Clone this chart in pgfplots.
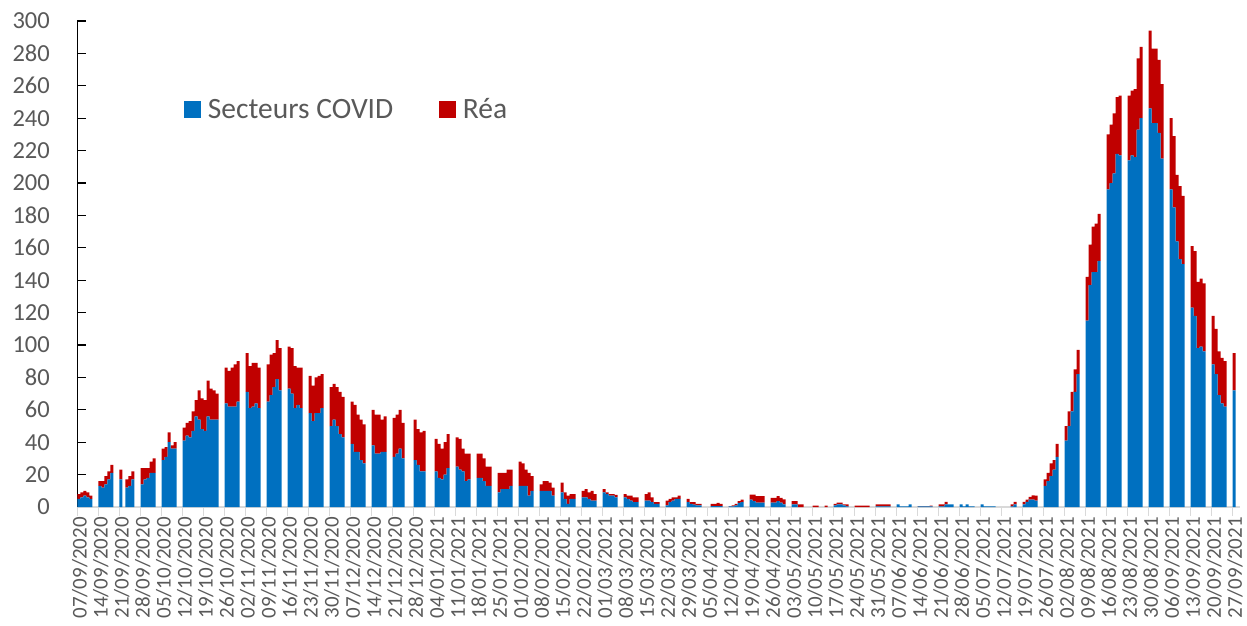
\documentclass[border=0pt]{standalone}
\usepackage{fontspec}
\setmainfont{Carlito}
\usepackage{pgfplots}
\usepackage{pgfplotstable}
\pgfplotsset{compat=1.18}
\definecolor{covblue}{HTML}{0070C0}
\definecolor{reared}{HTML}{C00000}
\definecolor{lblgray}{HTML}{595959}
\definecolor{axgray}{HTML}{D9D9D9}
\pgfplotsset{sqlegend/.style={legend image code/.code={\fill[##1] (0pt,-8.5pt) rectangle (16.5pt,8pt);}}}

\pgfplotstableread{
d cov rea
0 5 3
1 6 3
2 7 3
3 6 3
4 5 2
7 13 3
8 12 4
9 14 5
10 17 5
11 21 5
14 17 6
16 12 5
17 13 6
18 17 5
21 14 10
22 17 7
23 18 6
24 21 7
25 21 9
28 29 7
29 31 6
30 40 6
31 36 2
32 36 4
35 41 8
36 44 8
37 43 10
38 47 12
39 56 10
40 54 18
41 48 19
42 47 19
43 56 22
44 54 19
45 54 18
46 54 16
49 64 22
50 62 22
51 62 24
52 62 26
53 65 25
56 71 24
57 61 26
58 62 27
59 64 25
60 61 25
63 65 23
64 69 25
65 74 21
66 79 24
67 72 26
70 73 26
71 70 28
72 61 26
73 63 23
74 61 25
77 58 23
78 53 22
79 58 22
80 58 23
81 61 21
84 50 24
85 54 22
86 50 24
87 45 26
88 43 25
91 39 26
92 34 29
93 34 23
94 29 25
95 27 24
98 38 22
99 33 24
100 33 24
101 34 20
102 34 22
105 31 24
106 33 24
107 36 24
108 30 22
112 29 25
113 26 22
114 22 24
115 22 25
119 22 20
120 18 21
121 17 19
122 20 20
123 24 21
126 25 18
127 23 19
128 22 14
129 16 17
130 17 16
133 18 15
134 18 15
135 16 14
136 13 12
137 13 12
140 9 12
141 11 10
142 11 10
143 11 12
144 13 10
147 13 15
148 13 14
149 13 10
150 7 14
151 10 9
154 10 4
155 10 6
156 10 6
157 10 5
158 7 5
161 9 6
162 5 4
163 2 5
164 5 3
165 5 3
168 6 4
169 6 5
170 5 4
171 4 6
172 4 4
175 9 2
176 8 1
177 7 1
178 7 1
179 6 1.5
182 6 2
183 5 2
184 4 3
185 3 3
186 3 3
189 4 4
190 4 5
191 3 3
192 2 1
193 2 1
196 1 3
197 3 2
198 4 2
199 5 1
200 5 2
203 3 2
204 2 1
205 1.5 1.5
206 1 1
207 1 1
211 0.5 1.5
212 0.5 1.5
213 0.5 2
214 0.5 1.5
217 0.4 0.2
218 0.4 0.6
219 1 1
220 2.5 1.2
221 3 1.5
224 4.5 3.2
225 3.7 4
226 2.7 4
227 2.7 4
228 2.7 4
231 2.7 3
232 2.7 3
233 3.7 3
234 2.7 3
235 1.7 3
238 1.7 2
239 1.7 2
240 0 1.7
241 0 1.7
245 0 0.8
246 0 0.8
249 0 0.8
252 1 1
253 1.7 1
254 1.7 1
255 1 0.7
256 0.4 1.3
259 0 0.8
260 0 0.8
261 0 0.8
262 0 0.8
263 0 0.8
266 0.4 1.3
267 0.4 1.3
268 0.4 1.3
269 0.4 1.3
270 0.4 1.3
273 1.7 0
274 0.4 0
275 0.4 0
276 0.4 0
277 1.7 0
280 0.4 0.1
281 0.4 0.1
282 0.4 0.1
283 0.4 0.1
284 0.4 0.4
287 0.4 1.3
288 0.4 1.3
289 1.7 1.4
290 1.7 0
291 1.7 0
294 1.7 0
295 0.4 0
296 1.7 0
297 0.4 0
298 0.4 0
301 1.7 0
302 0.4 0
303 0.4 0
304 0.4 0
305 0.4 0
311 0.4 1.3
312 1.7 1.4
315 1.7 1.4
316 3.1 1.5
317 4.6 1.6
318 4.6 2.6
319 4 3
322 13 4
323 16 5
324 19 8
325 23 6
326 31 8
329 41 9
330 50 9
331 59 12
332 71 14
333 82 15
336 115 27
337 137 25
338 145 28
339 145 30
340 152 29
343 196 34
344 200 36
345 206 37
346 218 35
347 217 37
350 214 40
351 217 40
352 216 42
353 233 44
354 240 44
357 246 48
358 237 46
359 237 46
360 231 45
361 215 46
364 196 44
365 185 44
366 164 41
367 153 45
368 150 42
371 123 38
372 118 40
373 98 41
374 99 42
375 96 42
378 88 30
379 82 28
380 69 27
381 64 28
382 62 28
385 72 23
}\data

\begin{document}
\begin{tikzpicture}
\path[use as bounding box] (-77.5pt,-118pt) rectangle (1169.5pt,507pt);
\begin{axis}[
  at={(0,0)}, anchor=south west,
  scale only axis, width=1162.5pt, height=486pt,
  xmin=0, xmax=387.5, ymin=0, ymax=300,
  ybar stacked, bar width=1,
  axis x line*=bottom, axis y line*=left,
  x axis line style={draw=axgray, line width=2pt, -},
  y axis line style={draw=black, line width=1.3pt, -},
  tick align=inside, major tick length=8.5pt,
  ytick={0,20,...,300},
  ytick style={draw=black, line width=1.3pt},
  yticklabel style={font=\fontsize{24.5}{24.5}\selectfont, text=lblgray, inner sep=0pt, xshift=-27.5pt},
  /pgf/number format/assume math mode=true,
  /pgf/number format/1000 sep={},
  xtick={0,7,...,385},
  xtick style={draw=axgray, line width=1.5pt, yshift=-8.5pt},
  xticklabels={07/09/2020,14/09/2020,21/09/2020,28/09/2020,05/10/2020,12/10/2020,19/10/2020,26/10/2020,02/11/2020,09/11/2020,16/11/2020,23/11/2020,30/11/2020,07/12/2020,14/12/2020,21/12/2020,28/12/2020,04/01/2021,11/01/2021,18/01/2021,25/01/2021,01/02/2021,08/02/2021,15/02/2021,22/02/2021,01/03/2021,08/03/2021,15/03/2021,22/03/2021,29/03/2021,05/04/2021,12/04/2021,19/04/2021,26/04/2021,03/05/2021,10/05/2021,17/05/2021,24/05/2021,31/05/2021,07/06/2021,14/06/2021,21/06/2021,28/06/2021,05/07/2021,12/07/2021,19/07/2021,26/07/2021,02/08/2021,09/08/2021,16/08/2021,23/08/2021,30/08/2021,06/09/2021,13/09/2021,20/09/2021,27/09/2021},
  xticklabel style={font=\fontsize{21}{21}\selectfont, text=lblgray, inner sep=0pt, yshift=-10pt, xshift=2.4pt, rotate=90, anchor=east},
  legend style={at={(axis description cs:0.0918,0.8183)}, anchor=west, draw=none, fill=none, inner sep=0pt,
    font=\fontsize{29.5}{29.5}\selectfont, text=lblgray, nodes={inner sep=0pt},
    /tikz/every odd column/.append style={column sep=7pt},
    /tikz/every even column/.append style={column sep=46pt}},
  legend columns=2,
]
\addplot[fill=covblue, draw=none, sqlegend] table[x expr=\thisrow{d}+0.5, y=cov] {\data};
\addplot[fill=reared, draw=none, sqlegend] table[x expr=\thisrow{d}+0.5, y=rea] {\data};
\legend{Secteurs COVID, Réa}
\end{axis}
\end{tikzpicture}
\end{document}
